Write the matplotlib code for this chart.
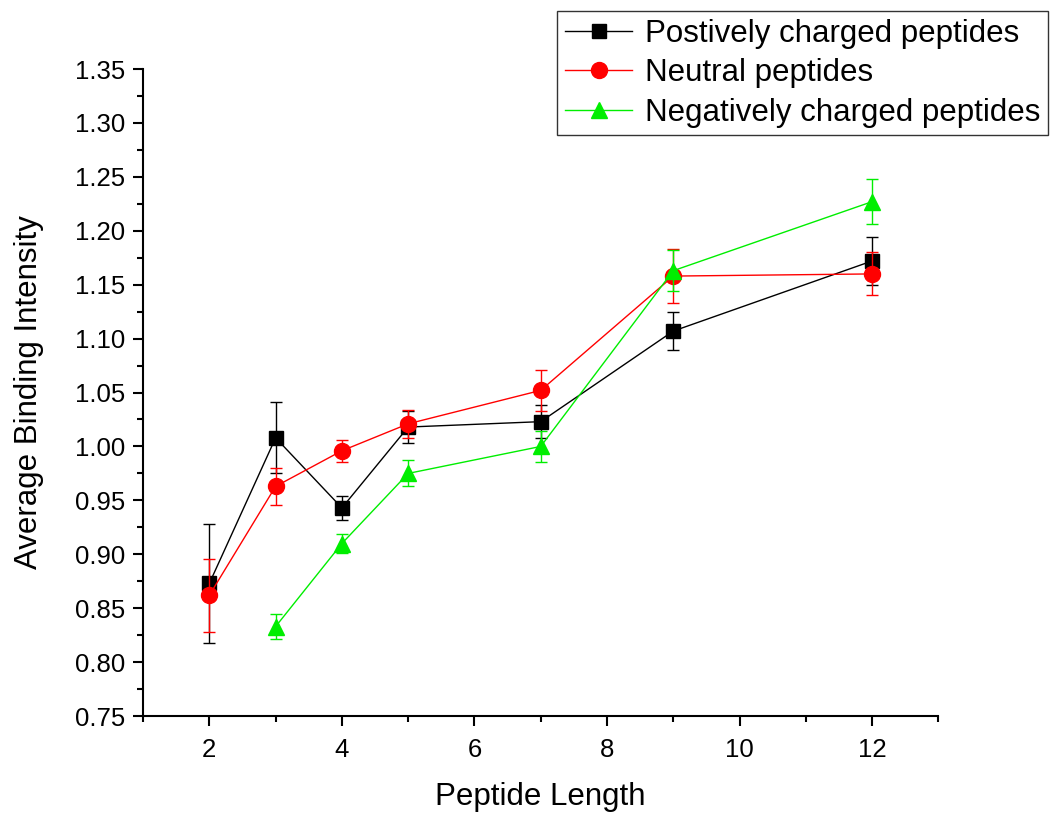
import matplotlib
matplotlib.use("Agg")
import matplotlib.pyplot as plt
from matplotlib.ticker import MultipleLocator, FormatStrFormatter

plt.rcParams['font.family'] = ['Liberation Sans', 'DejaVu Sans']

# peptide length
length_pos = [2, 3, 4, 5, 7, 9, 12]
length_neu = [2, 3, 4, 5, 7, 9, 12]
length_neg = [3, 4, 5, 7, 9, 12]

# average binding intensity and error
pos_mean = [0.873, 1.008, 0.943, 1.018, 1.023, 1.107, 1.172]
pos_err = [0.055, 0.033, 0.011, 0.015, 0.015, 0.018, 0.022]
neu_mean = [0.862, 0.963, 0.996, 1.021, 1.052, 1.158, 1.160]
neu_err = [0.034, 0.017, 0.010, 0.013, 0.019, 0.025, 0.020]
neg_mean = [0.833, 0.910, 0.975, 1.000, 1.163, 1.227]
neg_err = [0.012, 0.009, 0.012, 0.014, 0.019, 0.021]

labels = ["Postively charged peptides", "Neutral peptides", "Negatively charged peptides"]

fig = plt.figure(figsize=(10.52, 8.16), dpi=100)
ax = fig.add_axes([0.136, 0.1225, 0.756, 0.7929])

e1 = ax.errorbar(length_pos, pos_mean, yerr=pos_err, color='black', marker='s', ms=10,
                 lw=1, elinewidth=1, capsize=4, capthick=1, zorder=3)
e2 = ax.errorbar(length_neu, neu_mean, yerr=neu_err, color='#ff0000', marker='o', ms=11.5,
                 lw=1, elinewidth=1, capsize=4, capthick=1, zorder=4)
e3 = ax.errorbar(length_neg, neg_mean, yerr=neg_err, color='#00ee00', marker='^', ms=12,
                 lw=1, elinewidth=1, capsize=4, capthick=1, zorder=5)

ax.set_xlim(1, 13)
ax.set_ylim(0.75, 1.35)
ax.xaxis.set_major_locator(MultipleLocator(2))
ax.xaxis.set_minor_locator(MultipleLocator(1))
ax.yaxis.set_major_locator(MultipleLocator(0.05))
ax.yaxis.set_minor_locator(MultipleLocator(0.025))
ax.yaxis.set_major_formatter(FormatStrFormatter('%.2f'))

ax.spines['top'].set_visible(False)
ax.spines['right'].set_visible(False)
for s in ['left', 'bottom']:
    ax.spines[s].set_linewidth(1.5)
ax.tick_params(which='major', direction='out', length=7, width=1.5, labelsize=18.5, pad=6)
ax.tick_params(which='major', axis='x', pad=9)
ax.tick_params(which='minor', direction='out', length=4, width=1.5)

ax.set_xlabel("Peptide Length", fontsize=22.5, labelpad=14)
ax.set_ylabel("Average Binding Intensity", fontsize=22.5, labelpad=22)

leg = ax.legend([e1[0], e2[0], e3[0]], labels, loc='upper right',
                bbox_to_anchor=(1048 / 1052, 1 - 11 / 816),
                bbox_transform=fig.transFigure, fontsize=22.5, frameon=True,
                fancybox=False, edgecolor='black', handlelength=2.15,
                borderpad=0.25, labelspacing=0.3, handletextpad=0.4, borderaxespad=0)
leg.get_frame().set_linewidth(1)

fig.savefig("out.png", dpi=100)
